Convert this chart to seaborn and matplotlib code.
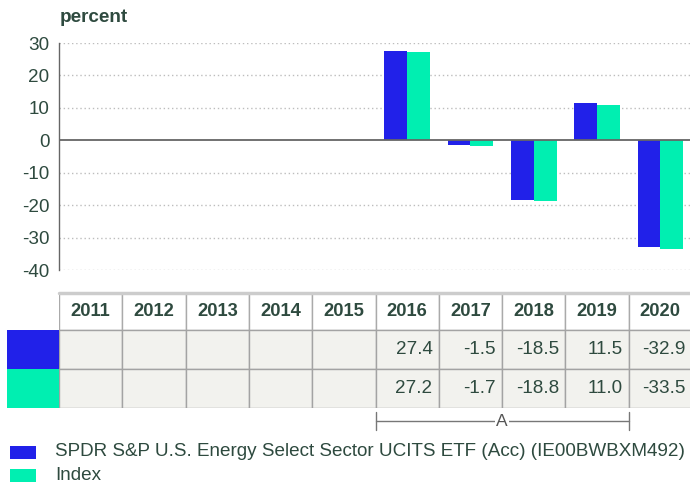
import pandas as pd
import seaborn as sns
import matplotlib.pyplot as plt
from matplotlib.patches import Rectangle

# --- data
years = ['2011', '2012', '2013', '2014', '2015', '2016', '2017', '2018', '2019', '2020']
fund_name = 'SPDR S&P U.S. Energy Select Sector UCITS ETF (Acc) (IE00BWBXM492)'
index_name = 'Index'
fund_vals = [None, None, None, None, None, 27.4, -1.5, -18.5, 11.5, -32.9]
index_vals = [None, None, None, None, None, 27.2, -1.7, -18.8, 11.0, -33.5]
y_ticks = [30, 20, 10, 0, -10, -20, -30, -40]
bracket_label = 'A'

blue = '#2121E9'
green = '#00EFB1'
txt = '#2E4A3F'
fs = 13.6

df = pd.DataFrame({
    'year': years * 2,
    'value': fund_vals + index_vals,
    'series': [fund_name] * len(years) + [index_name] * len(years),
})

sns.set_style('white')
plt.rcParams['font.family'] = ['Liberation Sans', 'DejaVu Sans']

W, H = 690, 484
fig = plt.figure(figsize=(W / 100, H / 100), dpi=100)

# --- bar chart
ax = fig.add_axes([59 / W, 1 - 270 / H, (692 - 59) / W, (270 - 43) / H])
sns.barplot(data=df, x='year', y='value', hue='series', order=years,
            hue_order=[fund_name, index_name], palette=[blue, green],
            saturation=1, width=0.72, linewidth=0, legend=False, ax=ax, zorder=3)
ax.set_xlim(-0.5, len(years) - 0.5)
ax.set_ylim(-40, 30)
ax.set_yticks(y_ticks)
ax.set_yticklabels([str(t) for t in y_ticks], fontsize=fs, color=txt)
ax.tick_params(axis='y', length=0, pad=7)
ax.set_xticks([])
ax.set_xlabel('')
ax.set_ylabel('')
for t in y_ticks:
    if t != 0:
        ax.axhline(t, color='#BDBDBD', lw=1, ls=(0, (1, 2)), zorder=1)
ax.axhline(0, color='#666666', lw=1.3, zorder=4)
for s in ['top', 'right', 'bottom']:
    ax.spines[s].set_visible(False)
ax.spines['left'].set_color('#666666')
ax.spines['left'].set_linewidth(1)
fig.text(60 / W, 1 - 18 / H, 'percent', fontsize=fs, fontweight='bold',
         color=txt, va='center', ha='left')

# --- data table under the chart
tab = fig.add_axes([59 / W, 1 - 408 / H, (692 - 59) / W, (408 - 293) / H])
tab.set_xlim(-0.5, len(years) - 0.5)
tab.set_ylim(115, 0)
tab.axis('off')
head_h, row_h = 37, 39
sw = 52 / 63.3
for i, yr in enumerate(years):
    tab.add_patch(Rectangle((i - 0.5, 0), 1, head_h, fc='white', ec='#AAAAAA', lw=1))
    tab.text(i, head_h / 2, yr, ha='center', va='center', fontsize=fs - 0.4,
             fontweight='bold', color=txt)
    for r, vals in enumerate([fund_vals, index_vals]):
        y0 = head_h + r * row_h
        tab.add_patch(Rectangle((i - 0.5, y0), 1, row_h, fc='#F2F2EE', ec='#A3A3A3', lw=1))
        if vals[i] is not None:
            tab.text(i + 0.4, y0 + row_h / 2, f'{vals[i]:.1f}', ha='right', va='center',
                     fontsize=fs, color=txt)
tab.plot([-0.5, len(years) - 0.5], [0, 0], color='#CCCCCC', lw=2.5, clip_on=False)
for r, c in enumerate([blue, green]):
    tab.add_patch(Rectangle((-0.5 - sw, head_h + r * row_h), sw, row_h, fc=c, ec='none',
                            clip_on=False))

# bracket below the table
by = 128
tab.plot([4.5, 8.5], [by, by], color='#777777', lw=1, clip_on=False)
for bx in [4.5, 8.5]:
    tab.plot([bx, bx], [119, 137], color='#777777', lw=1, clip_on=False)
tab.text(6.5, by, bracket_label, ha='center', va='center', fontsize=12.5, color='#555555',
         bbox=dict(fc='white', ec='none', pad=1), clip_on=False)

# --- legend
for k, (name, c) in enumerate([(fund_name, blue), (index_name, green)]):
    yc = 452 + k * 23
    fig.patches.append(Rectangle((10 / W, 1 - (yc + 6.5) / H), 26 / W, 13 / H,
                                 fc=c, ec='none', transform=fig.transFigure))
    fig.text(55 / W, 1 - yc / H, name, fontsize=fs, color=txt, va='center', ha='left')

fig.savefig('out.png', dpi=100)
